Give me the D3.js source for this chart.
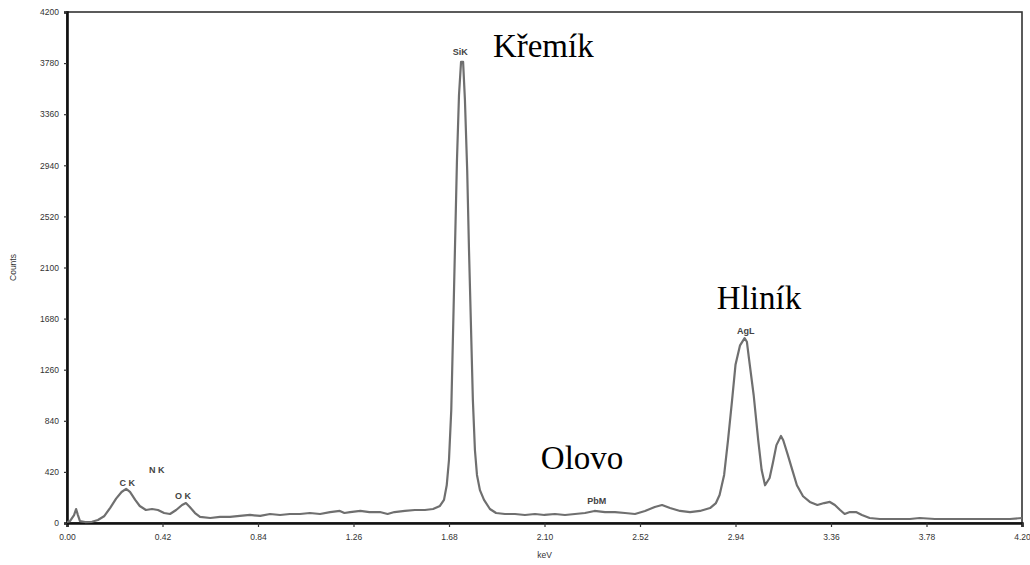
<!DOCTYPE html>
<html>
<head>
<meta charset="utf-8">
<script src="https://cdn.jsdelivr.net/npm/d3@7"></script>
<style>
  body { margin: 0; background: #fff; }
  svg { display: block; }
</style>
</head>
<body>
<div id="chart"></div>
<script>
// spectrum (keV, counts)
var energy = [0.00, 0.013, 0.031, 0.04, 0.048, 0.057, 0.08, 0.11, 0.136, 0.163, 0.19, 0.216, 0.24, 0.26, 0.277, 0.30, 0.32, 0.347, 0.374, 0.40,
  0.427, 0.453, 0.48, 0.506, 0.523, 0.54, 0.563, 0.585, 0.63, 0.673, 0.717, 0.76, 0.805, 0.85, 0.893, 0.937, 0.98, 1.025, 1.068, 1.113,
  1.157, 1.20, 1.22, 1.245, 1.29, 1.33, 1.376, 1.41, 1.44, 1.486, 1.53, 1.574, 1.61, 1.64, 1.658, 1.67, 1.68, 1.69, 1.697, 1.706,
  1.715, 1.724, 1.733, 1.742, 1.75, 1.76, 1.768, 1.777, 1.785, 1.794, 1.803, 1.816, 1.834, 1.86, 1.887, 1.926, 1.97, 2.014, 2.058, 2.10,
  2.146, 2.19, 2.234, 2.278, 2.32, 2.366, 2.41, 2.454, 2.498, 2.542, 2.585, 2.617, 2.652, 2.696, 2.74, 2.784, 2.828, 2.854, 2.87, 2.89,
  2.907, 2.925, 2.94, 2.96, 2.98, 2.99, 3.00, 3.02, 3.04, 3.055, 3.07, 3.09, 3.105, 3.12, 3.14, 3.15, 3.17, 3.19, 3.21, 3.237,
  3.267, 3.30, 3.33, 3.355, 3.377, 3.40, 3.42, 3.443, 3.47, 3.496, 3.53, 3.575, 3.62, 3.663, 3.707, 3.75, 3.817, 3.883, 3.97, 4.06,
  4.147, 4.20];
var counts = [8, 15, 65, 115, 65, 15, 8, 10, 25, 55, 125, 200, 255, 280, 255, 190, 140, 107, 115, 107,
  82, 74, 107, 148, 164, 132, 82, 50, 41, 50, 50, 58, 66, 58, 74, 66, 74, 74, 82, 74,
  90, 99, 82, 90, 99, 90, 90, 74, 90, 99, 107, 107, 115, 140, 190, 310, 520, 930, 1500, 2240,
  2980, 3520, 3790, 3790, 3480, 2900, 2240, 1590, 1010, 600, 395, 270, 190, 115, 82, 74, 74, 66, 74, 66,
  74, 66, 74, 82, 99, 90, 90, 82, 74, 99, 132, 148, 123, 99, 90, 99, 123, 164, 230, 395,
  680, 1010, 1300, 1460, 1520, 1490, 1340, 1050, 680, 435, 310, 370, 500, 640, 715, 680, 560, 435, 310, 220,
  173, 148, 164, 173, 148, 107, 74, 90, 90, 66, 41, 33, 33, 33, 33, 41, 33, 33, 33, 33,
  33, 41];

var xTicks = [0, 0.42, 0.84, 1.26, 1.68, 2.10, 2.52, 2.94, 3.36, 3.78, 4.20];
var yTicks = [0, 420, 840, 1260, 1680, 2100, 2520, 2940, 3360, 3780, 4200];

// small line labels from the instrument
var peakNames = ["N K", "C K", "O K", "SiK", "PbM", "AgL"];
var peakAt = [0.395, 0.265, 0.51, 1.73, 2.33, 2.985];
var peakLevel = [436, 329, 222, 3870, 181, 1578];

// czech element names added on top
var elementNames = ["Křemík", "Hliník", "Olovo"];
var elementAt = [1.873, 2.858, 2.084];
var elementLevel = [3830, 1759, 444];

var width = 1030, height = 565;
var margin = {left: 67, right: 8, top: 12, bottom: 42};

var svg = d3.select("#chart")
    .append("svg")
    .attr("width", width)
    .attr("height", height);

var x = d3.scaleLinear().domain([0, 4.2]).range([margin.left, width - margin.right]);
var y = d3.scaleLinear().domain([0, 4200]).range([height - margin.bottom, margin.top]);

// frame (top + right thinner)
svg.append("rect")
    .attr("x", x(0))
    .attr("y", y(4200))
    .attr("width", x(4.2) - x(0))
    .attr("height", y(0) - y(4200))
    .attr("fill", "none")
    .attr("stroke", "#333")
    .attr("stroke-width", 1.6);

var xAxis = svg.append("g")
    .attr("transform", "translate(0," + y(0) + ")")
    .call(d3.axisBottom(x).tickValues(xTicks).tickSize(4).tickFormat(d3.format(".2f")));

var yAxis = svg.append("g")
    .attr("transform", "translate(" + x(0) + ",0)")
    .call(d3.axisLeft(y).tickValues(yTicks).tickSize(3).tickFormat(d3.format("d")));

[xAxis, yAxis].forEach(function (g) {
  g.select(".domain").attr("stroke", "#111").attr("stroke-width", 2.6);
  g.selectAll(".tick line").attr("stroke", "#333").attr("stroke-width", 1.2);
  g.selectAll(".tick text")
    .attr("font-family", "Arial, 'Liberation Sans', sans-serif")
    .attr("font-size", "8.5px")
    .attr("fill", "#333");
});
xAxis.selectAll(".tick text").attr("dy", "1.2em");
yAxis.selectAll(".tick text").attr("x", -8);

svg.append("text")
    .attr("transform", "translate(16," + y(2100) + ") rotate(-90)")
    .attr("text-anchor", "middle")
    .attr("font-family", "Arial, 'Liberation Sans', sans-serif")
    .attr("font-size", "8.5px")
    .attr("fill", "#333")
    .text("Counts");

svg.append("text")
    .attr("x", x(2.10))
    .attr("y", 558)
    .attr("text-anchor", "middle")
    .attr("font-family", "Arial, 'Liberation Sans', sans-serif")
    .attr("font-size", "8.5px")
    .attr("fill", "#333")
    .text("keV");

var spectrum = energy.map(function (e, i) { return [e, counts[i]]; });

var line = d3.line()
    .x(function (d) { return x(d[0]); })
    .y(function (d) { return y(d[1]); });

svg.append("path")
    .datum(spectrum)
    .attr("fill", "none")
    .attr("stroke", "#6f6f6f")
    .attr("stroke-width", 2.2)
    .attr("stroke-linejoin", "round")
    .attr("d", line);

svg.selectAll(".peak")
    .data(peakNames)
    .enter()
    .append("text")
    .attr("class", "peak")
    .attr("x", function (d, i) { return x(peakAt[i]); })
    .attr("y", function (d, i) { return y(peakLevel[i]); })
    .attr("text-anchor", "middle")
    .attr("dominant-baseline", "central")
    .attr("font-family", "Arial, 'Liberation Sans', sans-serif")
    .attr("font-size", "9px")
    .attr("font-weight", "bold")
    .attr("fill", "#444")
    .text(function (d) { return d; });

svg.selectAll(".element")
    .data(elementNames)
    .enter()
    .append("text")
    .attr("class", "element")
    .attr("x", function (d, i) { return x(elementAt[i]); })
    .attr("y", function (d, i) { return y(elementLevel[i]); })
    .attr("font-family", "'Liberation Serif', serif")
    .attr("font-size", "33px")
    .attr("fill", "#000")
    .text(function (d) { return d; });
</script>
</body>
</html>
